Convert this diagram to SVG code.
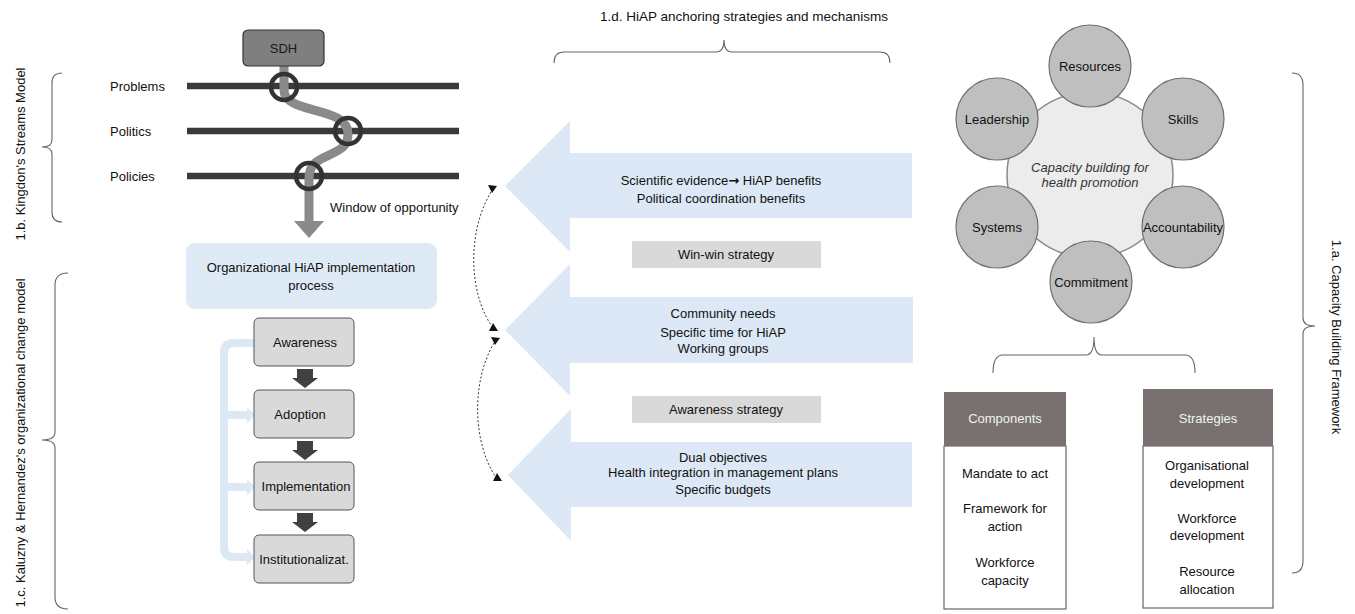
<svg xmlns="http://www.w3.org/2000/svg" width="1355" height="614" viewBox="0 0 1355 614">
<defs>
<style>
text{font-family:"Liberation Sans",Arial,sans-serif;font-size:13px;fill:#111}
.c{text-anchor:middle}
.brace{fill:none;stroke:#666;stroke-width:1.1}
.bar{stroke:#3a3a3a;stroke-width:6.5}
.ring{fill:none;stroke:#333;stroke-width:4.5}
.step{fill:#d9d9d9;stroke:#555;stroke-width:1}
.big{fill:#dce8f5}
.strat{fill:#d9d9d9}
.dot{fill:none;stroke:#333;stroke-width:1;stroke-dasharray:2,2}
.tri{fill:#111}
.outer{fill:#bfbfbf;stroke:#707070;stroke-width:1.2}
.hdr{fill:#787170}
.body{fill:#fff;stroke:#666;stroke-width:1.2}
.fb{fill:none;stroke:#dce9f5;stroke-width:8}
.fbh{fill:#dce9f5}
.dn{fill:#404040}
</style>
</defs>

<g id="title-1d">
<text class="c" x="744" y="21" style="font-size:13.5px">1.d. HiAP anchoring strategies and mechanisms</text>
<path class="brace" d="M554,63 Q554,52 564,52 L716,52 Q724,52 724,40 Q724,52 732,52 L880,52 Q890,52 890,63"/>
</g>

<g id="label-1b">
<path class="brace" d="M62,73 Q52,73 52,83 L52,140 Q52,147 42,147 Q52,147 52,154 L52,212 Q52,222 62,222"/>
<text class="c" transform="translate(25,154) rotate(-90)">1.b. Kingdon's Streams Model</text>
</g>

<g id="label-1c">
<path class="brace" d="M68,273 Q55,273 55,285 L55,432 Q55,440 42,440 Q55,440 55,448 L55,597 Q55,609 68,609"/>
<text class="c" transform="translate(25,443) rotate(-90)">1.c. Kaluzny &amp; Hernandez's organizational change model</text>
</g>

<g id="label-1a">
<path class="brace" d="M1292,73 Q1303,73 1303,85 L1303,318 Q1303,326 1315,326 Q1303,326 1303,334 L1303,561 Q1303,573 1292,573"/>
<text class="c" transform="translate(1332,337) rotate(90)">1.a. Capacity Building Framework</text>
</g>

<g id="streams">
<line class="bar" x1="187" y1="86" x2="459" y2="86"/>
<line class="bar" x1="187" y1="131" x2="459" y2="131"/>
<line class="bar" x1="187" y1="176" x2="459" y2="176"/>
<text x="110" y="90.5">Problems</text>
<text x="110" y="135.5">Politics</text>
<text x="110" y="180.5">Policies</text>
<path d="M284,64 L284,90 C284,115 348,105 348,134 C348,160 309,150 309,178 L309,223" fill="none" stroke="#8a8a8a" stroke-width="9"/>
<polygon points="294,221 324,221 309,238" fill="#8a8a8a"/>
<circle class="ring" cx="284" cy="87" r="13"/>
<circle class="ring" cx="348" cy="131" r="13"/>
<circle class="ring" cx="309" cy="176" r="13"/>
<text x="330" y="212">Window of opportunity</text>
</g>

<g id="sdh">
<rect x="243" y="30" width="81" height="36" rx="5" fill="#7f7f7f" stroke="#333" stroke-width="1.2"/>
<text class="c" x="283.5" y="52.5" style="fill:#1a1a1a">SDH</text>
</g>

<g id="org-process">
<rect x="186" y="243" width="251" height="66" rx="9" fill="#deebf7"/>
<text class="c" x="311" y="272">Organizational HiAP implementation</text>
<text class="c" x="311" y="290">process</text>
</g>

<g id="connectors">
<path class="fb" d="M254,343 L234,343 Q224,343 224,353 L224,547 Q224,557 234,557 L249,557"/>
<path class="fb" d="M224,415 L249,415 M224,487 L249,487"/>
<polygon class="fbh" points="247,407 255,415 247,423"/>
<polygon class="fbh" points="247,479 255,487 247,495"/>
<polygon class="fbh" points="247,549 255,557 247,565"/>
<polygon class="dn" points="297,369 313,369 313,378 318,378 305,388 292,378 297,378"/>
<polygon class="dn" points="297,441 313,441 313,450 318,450 305,460 292,450 297,450"/>
<polygon class="dn" points="297,513 313,513 313,522 318,522 305,532 292,522 297,522"/>
<path class="dot" d="M491,192 C468,230 468,290 491,325"/>
<path class="dot" d="M494,343 C472,380 472,440 495,476"/>
<polygon class="tri" points="488,185 497,186 492,193"/>
<polygon class="tri" points="489,331 498,331 493,323"/>
<polygon class="tri" points="491,337 500,338 495,345"/>
<polygon class="tri" points="493,481 502,481 497,473"/>
</g>

<g id="awareness">
<rect class="step" x="254" y="318" width="100" height="48" rx="5"/>
<text class="c" x="305" y="346.5">Awareness</text>
</g>
<g id="adoption">
<rect class="step" x="254" y="390" width="100" height="48" rx="5"/>
<text class="c" x="300" y="418.5">Adoption</text>
</g>
<g id="implementation">
<rect class="step" x="254" y="462" width="100" height="48" rx="5"/>
<text class="c" x="306" y="490.5">Implementation</text>
</g>
<g id="institutionalization">
<rect class="step" x="254" y="535" width="100" height="48" rx="5"/>
<text class="c" x="304" y="563.5">Institutionalizat.</text>
</g>

<g id="arrow-scientific">
<polygon class="big" points="912,153 570,153 570,121 505,186 570,252 570,218 912,218"/>
<text class="c" x="721" y="184.5">Scientific evidence<tspan style="font-family:'DejaVu Sans',sans-serif;font-weight:bold">→</tspan> HiAP benefits</text>
<text class="c" x="721" y="202.5">Political coordination benefits</text>
</g>
<g id="win-win">
<rect class="strat" x="632" y="241" width="189" height="27"/>
<text class="c" x="726" y="258.5">Win-win strategy</text>
</g>
<g id="arrow-community">
<polygon class="big" points="913,297 570,297 570,264 505,330 570,396 570,363 913,363"/>
<text class="c" x="723" y="317.5">Community needs</text>
<text class="c" x="723" y="336.5">Specific time for HiAP</text>
<text class="c" x="723" y="352.5">Working groups</text>
</g>
<g id="awareness-strategy">
<rect class="strat" x="632" y="396" width="189" height="27"/>
<text class="c" x="726" y="413.5">Awareness strategy</text>
</g>
<g id="arrow-dual">
<polygon class="big" points="912,442 571,442 571,409 508,475 571,541 571,507 912,507"/>
<text class="c" x="723" y="461.5">Dual objectives</text>
<text class="c" x="723" y="476.5">Health integration in management plans</text>
<text class="c" x="723" y="493.5">Specific budgets</text>
</g>

<g id="capacity-center">
<circle cx="1090" cy="175" r="83" fill="#ececec" stroke="#888" stroke-width="1.5"/>
<text class="c" x="1090" y="171.5" style="font-style:italic;fill:#333">Capacity building for</text>
<text class="c" x="1090" y="186.5" style="font-style:italic;fill:#333">health promotion</text>
</g>
<g id="resources"><circle class="outer" cx="1090" cy="66" r="41"/><text class="c" x="1090" y="70.5">Resources</text></g>
<g id="skills"><circle class="outer" cx="1183" cy="119" r="41"/><text class="c" x="1183" y="123.5">Skills</text></g>
<g id="accountability"><circle class="outer" cx="1183" cy="227" r="41"/><text class="c" x="1183" y="231.5">Accountability</text></g>
<g id="commitment"><circle class="outer" cx="1091" cy="282" r="41"/><text class="c" x="1091" y="286.5">Commitment</text></g>
<g id="systems"><circle class="outer" cx="997" cy="227" r="41"/><text class="c" x="997" y="231.5">Systems</text></g>
<g id="leadership"><circle class="outer" cx="997" cy="119" r="41"/><text class="c" x="997" y="123.5">Leadership</text></g>

<g id="brace-components">
<path class="brace" d="M993,373 Q993,355 1003,355 L1086,355 Q1094,355 1094,337 Q1094,355 1102,355 L1185,355 Q1195,355 1195,373"/>
</g>

<g id="components">
<rect class="body" x="944" y="446" width="122" height="163"/>
<rect class="hdr" x="944" y="392" width="122" height="54"/>
<text class="c" x="1005" y="422.5" style="fill:#f2f2f2">Components</text>
<text class="c" x="1005" y="477.5">Mandate to act</text>
<text class="c" x="1005" y="512.5">Framework for</text>
<text class="c" x="1005" y="530.5">action</text>
<text class="c" x="1005" y="566.5">Workforce</text>
<text class="c" x="1005" y="584.5">capacity</text>
</g>

<g id="strategies">
<rect class="body" x="1143" y="446" width="130" height="162"/>
<rect class="hdr" x="1143" y="389" width="130" height="57"/>
<text class="c" x="1208" y="422.5" style="fill:#f2f2f2">Strategies</text>
<text class="c" x="1207" y="469.5">Organisational</text>
<text class="c" x="1207" y="487.5">development</text>
<text class="c" x="1207" y="522.5">Workforce</text>
<text class="c" x="1207" y="539.5">development</text>
<text class="c" x="1207" y="575.5">Resource</text>
<text class="c" x="1207" y="593.5">allocation</text>
</g>
</svg>
